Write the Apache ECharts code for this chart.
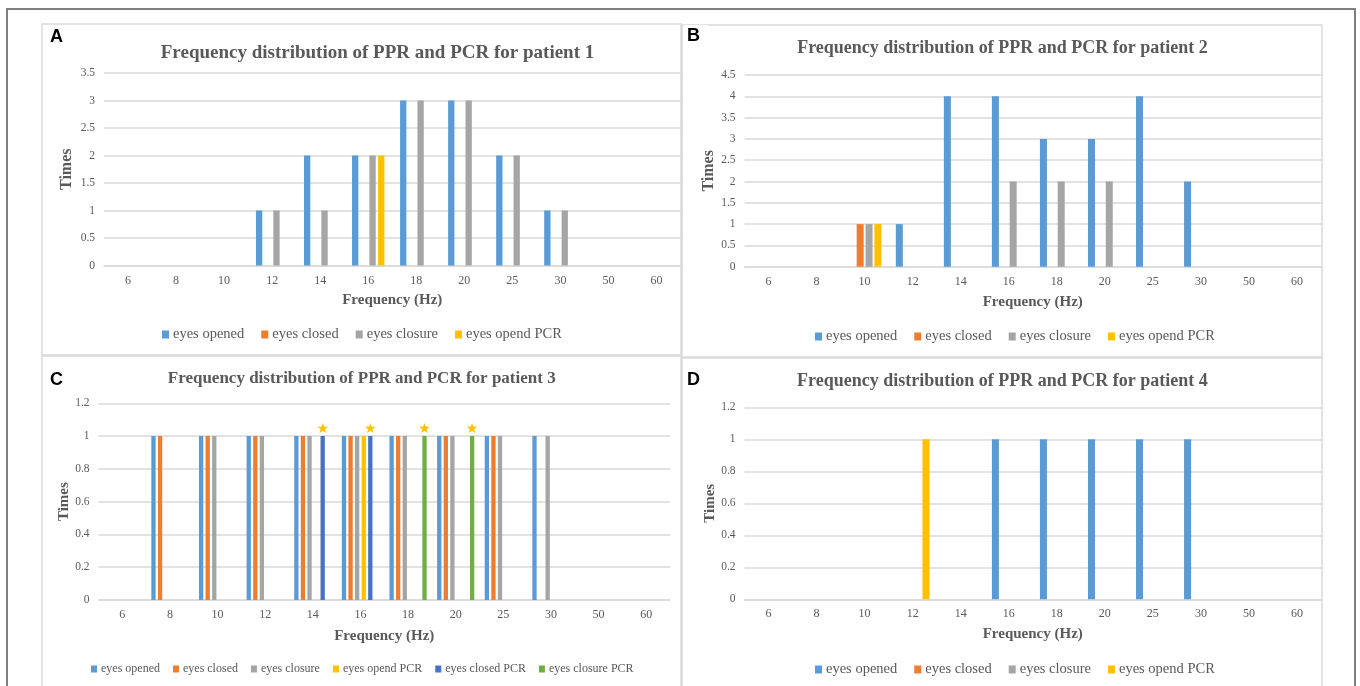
<!DOCTYPE html>
<html>
<head>
<meta charset="utf-8">
<title>Frequency distribution of PPR and PCR</title>
<script src="https://cdn.jsdelivr.net/npm/echarts@6/dist/echarts.min.js"></script>
<style>
  html, body { margin: 0; padding: 0; background: #fff; }
  #chart { width: 1360px; height: 686px; }
</style>
</head>
<body>
<div id="chart"></div>
<script>
// categories (Hz) shared by all four panels
const frequencies = ['6', '8', '10', '12', '14', '16', '18', '20', '25', '30', '50', '60'];
const seriesNames = ['eyes opened', 'eyes closed', 'eyes closure', 'eyes opend PCR', 'eyes closed PCR', 'eyes closure PCR'];
const colors = ['#5B9BD5', '#ED7D31', '#A5A5A5', '#FFC000', '#4472C4', '#70AD47'];

// patient 1
const p1Opened   = [0, 0, 0, 1, 2, 2, 3, 3, 2, 1, 0, 0];
const p1Closed   = [0, 0, 0, 0, 0, 0, 0, 0, 0, 0, 0, 0];
const p1Closure  = [0, 0, 0, 1, 1, 2, 3, 3, 2, 1, 0, 0];
const p1OpendPcr = [0, 0, 0, 0, 0, 2, 0, 0, 0, 0, 0, 0];

// patient 2
const p2Opened   = [0, 0, 0, 1, 4, 4, 3, 3, 4, 2, 0, 0];
const p2Closed   = [0, 0, 1, 0, 0, 0, 0, 0, 0, 0, 0, 0];
const p2Closure  = [0, 0, 1, 0, 0, 2, 2, 2, 0, 0, 0, 0];
const p2OpendPcr = [0, 0, 1, 0, 0, 0, 0, 0, 0, 0, 0, 0];

// patient 3
const p3Opened     = [0, 1, 1, 1, 1, 1, 1, 1, 1, 1, 0, 0];
const p3Closed     = [0, 1, 1, 1, 1, 1, 1, 1, 1, 0, 0, 0];
const p3Closure    = [0, 0, 1, 1, 1, 1, 1, 1, 1, 1, 0, 0];
const p3OpendPcr   = [0, 0, 0, 0, 0, 1, 0, 0, 0, 0, 0, 0];
const p3ClosedPcr  = [0, 0, 0, 0, 1, 1, 0, 0, 0, 0, 0, 0];
const p3ClosurePcr = [0, 0, 0, 0, 0, 0, 1, 1, 0, 0, 0, 0];

// patient 4
const p4Opened   = [0, 0, 0, 0, 0, 1, 1, 1, 1, 1, 0, 0];
const p4Closed   = [0, 0, 0, 0, 0, 0, 0, 0, 0, 0, 0, 0];
const p4Closure  = [0, 0, 0, 0, 0, 0, 0, 0, 0, 0, 0, 0];
const p4OpendPcr = [0, 0, 0, 1, 0, 0, 0, 0, 0, 0, 0, 0];

const panelLetters = ['A', 'B', 'C', 'D'];
const panelTitles = [
  'Frequency distribution of PPR and PCR for patient 1',
  'Frequency distribution of PPR and PCR for patient 2',
  'Frequency distribution of PPR and PCR for patient 3',
  'Frequency distribution of PPR and PCR for patient 4'
];
const yMax = [3.5, 4.5, 1.2, 1.2];
const yStep = [0.5, 0.5, 0.2, 0.2];
const panelData = [
  [p1Opened, p1Closed, p1Closure, p1OpendPcr],
  [p2Opened, p2Closed, p2Closure, p2OpendPcr],
  [p3Opened, p3Closed, p3Closure, p3OpendPcr, p3ClosedPcr, p3ClosurePcr],
  [p4Opened, p4Closed, p4Closure, p4OpendPcr]
];
// series whose bars carry a star in panel C
const starredSeries = ['eyes closed PCR', 'eyes closure PCR'];

const SERIF = '"Liberation Serif", "Times New Roman", serif';
const SANS = '"Liberation Sans", Arial, sans-serif';
const TEXT = '#595959';
const LINE = '#D9D9D9';

// layout of each panel
const layout = [
  { box: [42, 24, 639, 331], grid: [104, 73, 576.5, 192.5], title: [377.5, 53, 19], letter: [50, 37],
    legend: [162, 335, 14.5, 17, 7, 8], yName: [29, 16], xName: 27, barWidth: 6.3, barGap: '38%' },
  { box: [682, 25, 640, 332], grid: [744.5, 75, 576.5, 191.7], title: [1002.5, 48.5, 18], letter: [687, 36],
    legend: [815, 337, 14.5, 17, 7, 8], yName: [26.5, 16], xName: 27.5, barWidth: 7, barGap: '27%' },
  { box: [42, 356, 639, 340], grid: [98.5, 403.3, 571.5, 196.7], title: [361.7, 378.5, 17], letter: [50, 380],
    legend: [91, 671, 12, 13, 6, 7], yName: [27, 15], xName: 28.5, barWidth: 4.3, barGap: '53%' },
  { box: [682, 358, 640, 340], grid: [744.5, 407.3, 576.5, 192], title: [1002.4, 381.7, 18], letter: [687, 380],
    legend: [815, 670, 14.5, 17, 7, 8], yName: [27, 15], xName: 27, barWidth: 7, barGap: '27%' }
];

const chart = echarts.init(document.getElementById('chart'));

const grid = [], xAxis = [], yAxis = [], legend = [], series = [], graphic = [];

// outer frame
graphic.push({
  type: 'rect', shape: { x: 7, y: 9, width: 1348, height: 700 },
  style: { fill: 'none', stroke: '#7F7F7F', lineWidth: 2 }, z: 100
});

layout.forEach((L, i) => {
  const names = seriesNames.slice(0, panelData[i].length);
  graphic.push({
    type: 'rect', shape: { x: L.box[0], y: L.box[1], width: L.box[2], height: L.box[3] },
    style: { fill: 'none', stroke: LINE, lineWidth: 1.5 }, z: 90
  });
  graphic.push({
    type: 'rect', shape: { x: L.letter[0] - 3, y: L.letter[1] - 11, width: 24, height: 22 },
    style: { fill: '#fff' }, z: 95
  });
  graphic.push({
    type: 'text', x: L.letter[0], y: L.letter[1], z: 96,
    style: { text: panelLetters[i], font: 'bold 18px ' + SANS, fill: '#000', verticalAlign: 'middle' }
  });
  graphic.push({
    type: 'text', x: L.title[0], y: L.title[1], z: 96,
    style: { text: panelTitles[i], font: 'bold ' + L.title[2] + 'px ' + SERIF, fill: TEXT, align: 'center', verticalAlign: 'middle' }
  });

  grid.push({ left: L.grid[0], top: L.grid[1], width: L.grid[2], height: L.grid[3], containLabel: false });
  xAxis.push({
    type: 'category', gridIndex: i, data: frequencies,
    name: 'Frequency (Hz)', nameLocation: 'middle', nameGap: L.xName,
    nameTextStyle: { fontFamily: SERIF, fontWeight: 'bold', fontSize: 15, color: TEXT },
    axisLine: { lineStyle: { color: LINE, width: 1.5 } },
    axisTick: { show: false },
    axisLabel: { fontFamily: SERIF, fontSize: 12, color: TEXT, margin: 9, interval: 0 }
  });
  yAxis.push({
    type: 'value', gridIndex: i, min: 0, max: yMax[i], interval: yStep[i],
    name: 'Times', nameLocation: 'middle', nameGap: L.yName[0],
    nameTextStyle: { fontFamily: SERIF, fontWeight: 'bold', fontSize: L.yName[1], color: TEXT },
    axisLine: { show: false },
    axisTick: { show: false },
    axisLabel: { fontFamily: SERIF, fontSize: 11.5, color: TEXT, margin: 9 },
    splitLine: { lineStyle: { color: LINE, width: 1.5 } }
  });
  legend.push({
    data: names, left: L.legend[0], top: L.legend[1] - 8, padding: 0,
    icon: 'rect', itemWidth: L.legend[4], itemHeight: L.legend[5], itemGap: L.legend[3],
    selectedMode: false,
    textStyle: { fontFamily: SERIF, fontSize: L.legend[2], color: TEXT, padding: [0, 0, 0, -1] }
  });
  panelData[i].forEach((values, k) => {
    const starred = i === 2 && starredSeries.includes(names[k]);
    series.push({
      type: 'bar', name: names[k], xAxisIndex: i, yAxisIndex: i,
      data: values,
      barWidth: L.barWidth, barGap: L.barGap,
      itemStyle: { color: colors[k] },
      label: starred ? {
        show: true, position: 'top', distance: 0,
        formatter: p => (p.value > 0 ? '\u2605' : ''),
        fontFamily: '"DejaVu Sans", sans-serif', fontSize: 14, color: '#FFC000'
      } : { show: false },
      silent: true
    });
  });
});

chart.setOption({
  animation: false,
  color: colors,
  grid: grid,
  xAxis: xAxis,
  yAxis: yAxis,
  legend: legend,
  series: series,
  graphic: graphic
});
</script>
</body>
</html>
